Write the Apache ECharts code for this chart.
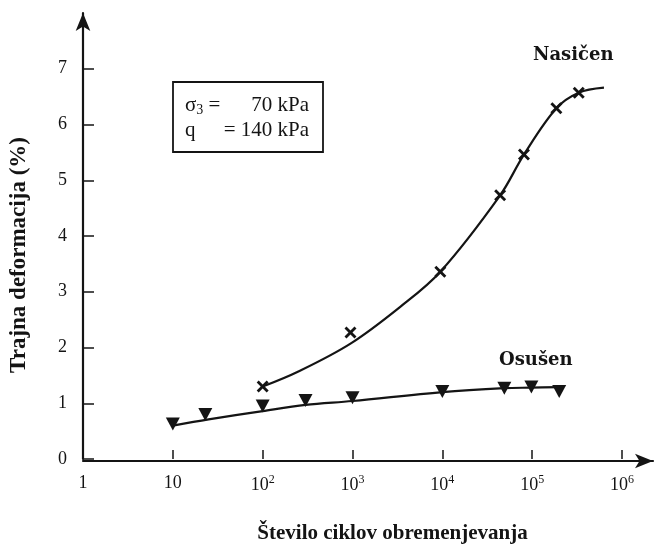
<!DOCTYPE html>
<html>
<head>
<meta charset="utf-8">
<script src="https://cdn.jsdelivr.net/npm/echarts@6/dist/echarts.min.js"></script>
<style>
  html, body { margin: 0; padding: 0; background: #fff; }
  #chart { width: 655px; height: 549px; }
</style>
</head>
<body>
<div id="chart"></div>
<script>
// izmerjene tocke (stevilo ciklov, trajna deformacija %)
var nasicenPoints = [[100, 1.3], [950, 2.27], [9500, 3.36], [44000, 4.73], [81000, 5.46], [186000, 6.29], [330000, 6.57]];
var nasicenCurve = [[100, 1.3], [250, 1.57], [950, 2.07], [3400, 2.73], [9500, 3.36], [44000, 4.73], [81000, 5.46], [186000, 6.29], [330000, 6.57], [630000, 6.66]];
var osusenPoints = [[10, 0.63], [23, 0.8], [100, 0.95], [300, 1.05], [1000, 1.1], [10000, 1.21], [49000, 1.27], [98000, 1.29], [200000, 1.21]];
var osusenCurve = [[10, 0.6], [25, 0.71], [100, 0.86], [300, 0.97], [1000, 1.04], [10000, 1.2], [49000, 1.27], [98000, 1.28], [200000, 1.29]];
var yTicks = [0, 1, 2, 3, 4, 5, 6, 7];

var serif = '"Liberation Serif", "DejaVu Serif", serif';
var wideSerif = '"DejaVu Serif", "Liberation Serif", serif';
var ink = '#141414';
var crossPath = 'path://M0,2L2,0L6,4L10,0L12,2L8,6L12,10L10,12L6,8L2,12L0,10L4,6Z';

var myChart = echarts.init(document.getElementById('chart'));

var option = {
    backgroundColor: '#fff',
    animation: false,
    grid: [
        { left: 83, right: 33, top: 13, bottom: 88 },
        // samo za puscico osi x, ki sega cez 10^6
        { left: 83, right: 2, top: 13, bottom: 88 }
    ],
    xAxis: [
        {
            type: 'log',
            gridIndex: 0,
            logBase: 10,
            min: 1,
            max: 1000000,
            name: 'Število ciklov obremenjevanja',
            nameLocation: 'middle',
            nameGap: 64,
            nameTextStyle: { fontFamily: serif, fontWeight: 'bold', fontSize: 21, color: ink, padding: [0, 0, 0, 80] },
            axisLine: { show: false },
            axisTick: { inside: true, length: 9, lineStyle: { color: ink, width: 1.5 } },
            splitLine: { show: false },
            axisLabel: {
                margin: 15,
                fontFamily: serif,
                fontSize: 18,
                color: ink,
                formatter: function (v) {
                    var e = Math.round(Math.log10(v));
                    if (e === 0) return '1';
                    if (e === 1) return '10';
                    return '10{s|' + e + '}';
                },
                rich: {
                    s: { fontFamily: serif, fontSize: 12, color: ink, padding: [0, 0, 10, 0] }
                }
            }
        },
        {
            type: 'value',
            gridIndex: 1,
            min: 0,
            max: 1,
            axisLine: { lineStyle: { color: ink, width: 2.2 }, symbol: ['none', 'arrow'], symbolSize: [11, 18] },
            axisTick: { show: false },
            axisLabel: { show: false },
            splitLine: { show: false }
        }
    ],
    yAxis: [
        {
            type: 'value',
            gridIndex: 0,
            min: 0,
            max: 8,
            interval: 1,
            name: 'Trajna deformacija (%)',
            nameLocation: 'middle',
            nameGap: 52,
            nameTextStyle: { fontFamily: serif, fontWeight: 'bold', fontSize: 23, color: ink, padding: [0, 38, 0, 0] },
            axisLine: { lineStyle: { color: ink, width: 2.2 }, symbol: ['none', 'arrow'], symbolSize: [11, 18] },
            axisTick: { inside: true, length: 11, lineStyle: { color: ink, width: 1.5 }, customValues: yTicks },
            splitLine: { show: false },
            axisLabel: { margin: 16, fontFamily: serif, fontSize: 18, color: ink, customValues: yTicks }
        },
        {
            type: 'value',
            gridIndex: 1,
            min: 0,
            max: 1,
            show: false
        }
    ],
    series: [
        {
            name: 'Nasičen',
            type: 'line',
            data: nasicenCurve,
            smooth: 0.35,
            showSymbol: false,
            lineStyle: { color: ink, width: 2.2 }
        },
        {
            name: 'Nasičen',
            type: 'scatter',
            data: nasicenPoints,
            symbol: crossPath,
            symbolSize: 12,
            itemStyle: { color: ink, opacity: 1 }
        },
        {
            name: 'Osušen',
            type: 'line',
            data: osusenCurve,
            smooth: 0.35,
            showSymbol: false,
            lineStyle: { color: ink, width: 2.2 }
        },
        {
            name: 'Osušen',
            type: 'scatter',
            data: osusenPoints,
            symbol: 'triangle',
            symbolRotate: 180,
            symbolSize: [14, 13],
            itemStyle: { color: ink, opacity: 1 }
        }
    ],
    graphic: [
        {
            type: 'rect',
            shape: { x: 173, y: 82, width: 150, height: 70 },
            style: { fill: '#fff', stroke: ink, lineWidth: 1.8 }
        },
        {
            type: 'text',
            x: 185,
            y: 105,
            style: {
                text: 'σ{sub|3} =',
                fontFamily: serif,
                fontSize: 21,
                fill: ink,
                verticalAlign: 'middle',
                rich: { sub: { fontFamily: serif, fontSize: 14, fill: ink, padding: [10, 0, 0, 0] } }
            }
        },
        {
            type: 'text',
            x: 309,
            y: 105,
            style: { text: '70 kPa', fontFamily: serif, fontSize: 21, fill: ink, align: 'right', verticalAlign: 'middle' }
        },
        {
            type: 'text',
            x: 185,
            y: 130,
            style: { text: 'q', fontFamily: serif, fontSize: 21, fill: ink, verticalAlign: 'middle' }
        },
        {
            type: 'text',
            x: 309,
            y: 130,
            style: { text: '= 140 kPa', fontFamily: serif, fontSize: 21, fill: ink, align: 'right', verticalAlign: 'middle' }
        },
        {
            type: 'text',
            x: 533,
            y: 55,
            style: { text: 'Nasičen', fontFamily: wideSerif, fontWeight: 'bold', fontSize: 18, fill: ink, verticalAlign: 'middle' }
        },
        {
            type: 'text',
            x: 499,
            y: 360,
            style: { text: 'Osušen', fontFamily: wideSerif, fontWeight: 'bold', fontSize: 18, fill: ink, verticalAlign: 'middle' }
        }
    ]
};

myChart.setOption(option);
window.addEventListener('resize', function () {
    myChart.resize();
});
</script>
</body>
</html>
